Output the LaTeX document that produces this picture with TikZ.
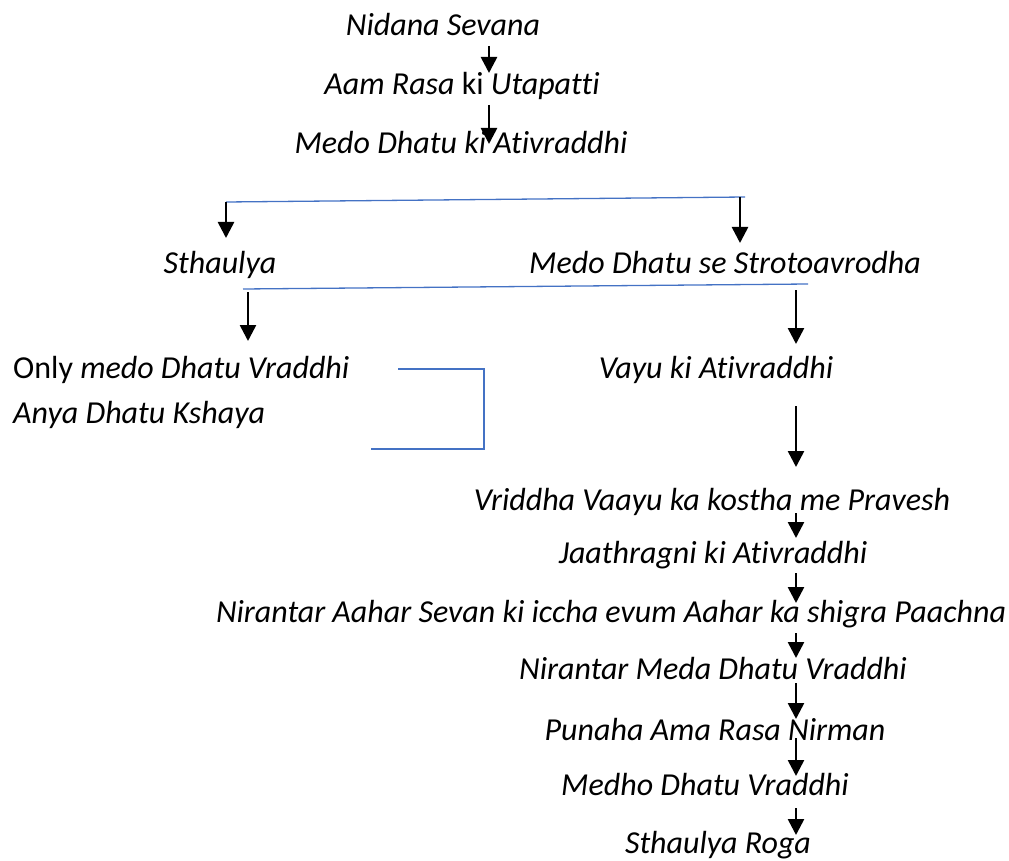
\documentclass[tikz,border=0pt]{standalone}
\usepackage{fontspec}
\setmainfont[Ligatures=NoCommon]{Carlito}
\usetikzlibrary{arrows.meta}
\definecolor{linkblue}{RGB}{68,114,196}
\tikzset{
  lbl/.style={anchor=base, inner sep=0pt, font=\fontsize{32}{38}\selectfont\itshape},
  lblw/.style={lbl, anchor=base west},
  arr/.style={line width=2.6pt, -{Triangle[length=16pt,width=16pt]}},
  bl/.style={draw=linkblue, line width=1.3pt}
}
\begin{document}
\begin{tikzpicture}[x=1pt,y=-1pt]
\useasboundingbox (0,0) rectangle (1009,861);
% text nodes
\node[lbl] (n1) at (443,36) {Nidana Sevana};
\node[lbl] (n2) at (462,95) {Aam Rasa \textup{ki} Utapatti};
\node[lbl] (n3) at (461,154) {Medo Dhatu ki Ativraddhi};
\node[lbl] (s1) at (220,273) {Sthaulya};
\node[lbl] (s2) at (725,273) {Medo Dhatu se Strotoavrodha};
\node[lblw] (o1) at (13,378) {\textup{Only} medo Dhatu Vraddhi};
\node[lblw] (o2) at (13,423) {Anya Dhatu Kshaya};
\node[lbl] (v1) at (716,378) {Vayu ki Ativraddhi};
\node[lbl] (v2) at (712,510) {Vriddha Vaayu ka kostha me Pravesh};
\node[lbl] (v3) at (713,563) {Jaathragni ki Ativraddhi};
\node[lbl] (v4) at (611,622) {Nirantar Aahar Sevan ki iccha evum Aahar ka shigra Paachna};
\node[lbl] (v5) at (713,679) {Nirantar Meda Dhatu Vraddhi};
\node[lbl] (v6) at (715,740) {Punaha Ama Rasa Nirman};
\node[lbl] (v7) at (705,795) {Medho Dhatu Vraddhi};
\node[lbl] (v8) at (718,853) {Sthaulya Roga};
% coordinates for connectors
\coordinate (a1s) at (489,46);  \coordinate (a1e) at (489,73);
\coordinate (a2s) at (489,105); \coordinate (a2e) at (489,144);
\coordinate (b1l) at (226,202); \coordinate (b1r) at (745,197);
\coordinate (b1le) at (226,238); \coordinate (b1rs) at (740,197); \coordinate (b1re) at (740,243);
\coordinate (b2l) at (243,289); \coordinate (b2r) at (808,284);
\coordinate (b2ls) at (248,292); \coordinate (b2le) at (248,341);
\coordinate (b2rs) at (796,290); \coordinate (b2re) at (796,344);
\coordinate (k1) at (398,369); \coordinate (k2) at (484,369);
\coordinate (k3) at (484,449); \coordinate (k4) at (371,449);
\coordinate (c1s) at (796,406); \coordinate (c1e) at (796,467);
\coordinate (c2s) at (796,513); \coordinate (c2e) at (796,538);
\coordinate (c3s) at (796,573); \coordinate (c3e) at (796,603);
\coordinate (c4s) at (796,633); \coordinate (c4e) at (796,658);
\coordinate (c5s) at (796,683); \coordinate (c5e) at (796,719);
\coordinate (c6s) at (796,738); \coordinate (c6e) at (796,776);
\coordinate (c7s) at (796,808); \coordinate (c7e) at (796,835);
% connectors
\draw[arr] (a1s) -- (a1e);
\draw[arr] (a2s) -- (a2e);
\draw[bl] (b1l) -- (b1r);
\draw[arr] (b1l) -- (b1le);
\draw[arr] (b1rs) -- (b1re);
\draw[bl] (b2l) -- (b2r);
\draw[arr] (b2ls) -- (b2le);
\draw[arr] (b2rs) -- (b2re);
\draw[bl] (k1) -- (k2) -- (k3) -- (k4);
\draw[arr] (c1s) -- (c1e);
\draw[arr] (c2s) -- (c2e);
\draw[arr] (c3s) -- (c3e);
\draw[arr] (c4s) -- (c4e);
\draw[arr] (c5s) -- (c5e);
\draw[arr] (c6s) -- (c6e);
\draw[arr] (c7s) -- (c7e);
\end{tikzpicture}
\end{document}
